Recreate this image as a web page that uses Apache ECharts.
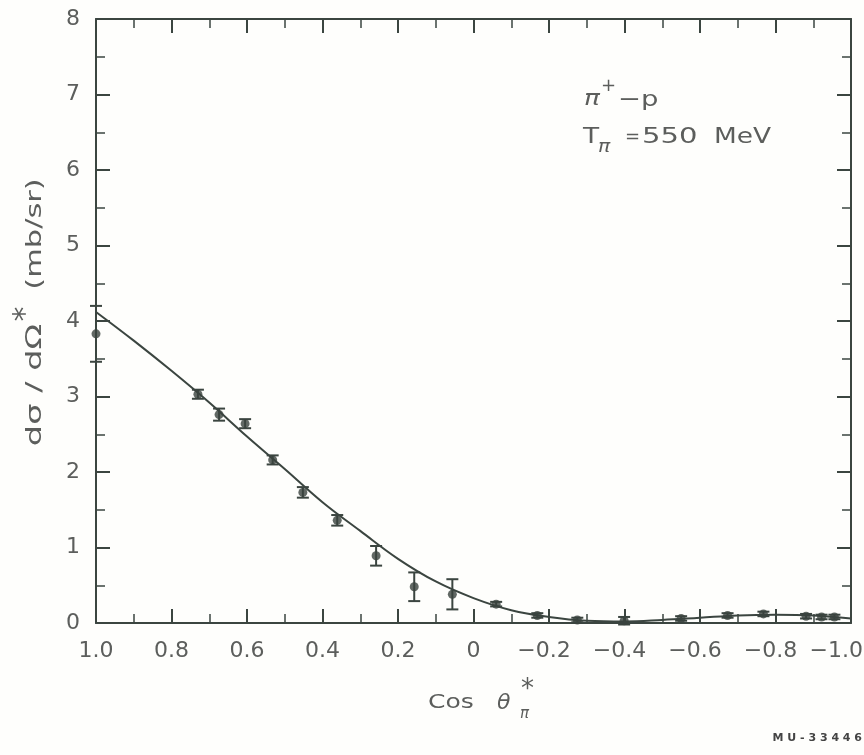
<!DOCTYPE html>
<html>
<head>
<meta charset="utf-8">
<script src="https://cdn.jsdelivr.net/npm/echarts@6/dist/echarts.min.js"></script>
<style>
  html, body { margin: 0; padding: 0; background: #fefefc; }
  #chart { width: 864px; height: 755px; }
</style>
</head>
<body>
<div id="chart"></div>
<script>
// measured points (cos theta*, dsigma/dOmega*, error)
var cosPts = [1.0, 0.73, 0.674, 0.605, 0.532, 0.452, 0.361, 0.258, 0.157, 0.056, -0.06, -0.169, -0.275, -0.399, -0.55, -0.673, -0.768, -0.881, -0.922, -0.956];
var sigPts = [3.83, 3.03, 2.76, 2.64, 2.16, 1.73, 1.36, 0.89, 0.48, 0.38, 0.25, 0.10, 0.04, 0.03, 0.06, 0.10, 0.12, 0.09, 0.08, 0.08];
var errPts = [0.37, 0.06, 0.08, 0.06, 0.06, 0.07, 0.07, 0.13, 0.19, 0.20, 0.03, 0.03, 0.03, 0.05, 0.03, 0.03, 0.03, 0.03, 0.03, 0.03];

// fitted curve
var curveX = [1.0, 0.9, 0.8, 0.7, 0.6, 0.5, 0.4, 0.3, 0.2, 0.1, 0.0, -0.1, -0.2, -0.3, -0.4, -0.5, -0.6, -0.7, -0.8, -0.9, -1.0];
var curveY = [4.12, 3.74, 3.34, 2.92, 2.47, 2.04, 1.60, 1.22, 0.85, 0.55, 0.33, 0.17, 0.08, 0.03, 0.02, 0.04, 0.07, 0.10, 0.11, 0.10, 0.06];

var xTicks = [1.0, 0.8, 0.6, 0.4, 0.2, 0, -0.2, -0.4, -0.6, -0.8, -1.0];
var yTicks = [0, 1, 2, 3, 4, 5, 6, 7, 8];

var ink = '#3b4540';
var txt = '#5c5e5c';
var font = 'DejaVu Sans';

var myChart = echarts.init(document.getElementById('chart'));

var points = [], bars = [], curve = [];
for (var i = 0; i < cosPts.length; i++) {
	points.push([cosPts[i], sigPts[i]]);
	bars.push([cosPts[i], sigPts[i] - errPts[i], sigPts[i] + errPts[i]]);
}
for (var j = 0; j < curveX.length; j++) {
	curve.push([curveX[j], curveY[j]]);
}

// negative labels: pad right with invisible text so the digits sit near the tick
function xLabel(v) {
	if (Math.abs(v) < 1e-9) return '0';
	if (v <= -0.99) return '\u22121.0{h2|\u22121}';
	if (v < 0) return '\u2212' + Math.abs(v).toFixed(1) + '{h|\u2212}';
	return v.toFixed(1);
}

function txtEl(x, y, s, size, opts) {
	opts = opts || {};
	return {
		type: 'text', x: x, y: y,
		rotation: opts.rot || 0,
		scaleX: opts.sx || 1,
		style: {
			text: s,
			font: (opts.style || '') + ' ' + size + 'px "' + font + '"',
			fill: opts.fill || txt,
			align: opts.align || 'left',
			verticalAlign: 'middle'
		}
	};
}

var axisCommon = {
	type: 'value',
	axisLine: { show: true, onZero: false, lineStyle: { color: ink, width: 2 } },
	axisTick: { show: true, inside: true, length: 14, lineStyle: { color: ink, width: 2 } },
	minorTick: { show: true, splitNumber: 2, length: 9, lineStyle: { color: ink, width: 1.5 } },
	splitLine: { show: false }
};

option = {
	backgroundColor: '#fefefc',
	animation: false,
	grid: { left: 96, right: 13, top: 19, bottom: 132, containLabel: false, outerBoundsMode: 'none' },
	xAxis: [
		echarts.util.merge({
			position: 'bottom', inverse: true, min: -1, max: 1, interval: 0.2,
			axisLabel: {
				show: true, margin: 17, color: txt, fontSize: 22, fontFamily: font,
				showMinLabel: true, showMaxLabel: true, hideOverlap: false,
				formatter: xLabel,
				rich: {
					h: { color: 'rgba(0,0,0,0)', fontSize: 12, fontFamily: font },
					h2: { color: 'rgba(0,0,0,0)', fontSize: 20, fontFamily: font }
				}
			}
		}, axisCommon, true),
		echarts.util.merge({
			position: 'top', inverse: true, min: -1, max: 1, interval: 0.2,
			axisLabel: { show: false }
		}, axisCommon, true)
	],
	yAxis: [
		echarts.util.merge({
			position: 'left', min: 0, max: 8, interval: 1,
			axisLabel: { show: true, margin: 16, color: txt, fontSize: 22, fontFamily: font }
		}, axisCommon, true),
		echarts.util.merge({
			position: 'right', min: 0, max: 8, interval: 1,
			axisLabel: { show: false }
		}, axisCommon, true)
	],
	series: [
		{
			name: 'fit',
			type: 'line',
			xAxisIndex: 0, yAxisIndex: 0,
			data: curve,
			smooth: 0.4,
			symbol: 'none',
			lineStyle: { color: ink, width: 2 },
			z: 2
		},
		{
			name: 'errors',
			type: 'custom',
			xAxisIndex: 0, yAxisIndex: 0,
			clip: false,
			data: bars,
			renderItem: function (params, api) {
				var lo = api.coord([api.value(0), api.value(1)]);
				var hi = api.coord([api.value(0), api.value(2)]);
				var w = 6;
				var st = { stroke: ink, lineWidth: 2 };
				return {
					type: 'group',
					children: [
						{ type: 'line', shape: { x1: lo[0], y1: lo[1], x2: hi[0], y2: hi[1] }, style: st },
						{ type: 'line', shape: { x1: lo[0] - w, y1: lo[1], x2: lo[0] + w, y2: lo[1] }, style: st },
						{ type: 'line', shape: { x1: hi[0] - w, y1: hi[1], x2: hi[0] + w, y2: hi[1] }, style: st }
					]
				};
			},
			z: 3
		},
		{
			name: 'data',
			type: 'scatter',
			xAxisIndex: 0, yAxisIndex: 0,
			clip: false,
			data: points,
			symbol: 'circle',
			symbolSize: 9,
			itemStyle: { color: '#3a423d' },
			z: 4
		}
	],
	graphic: [
		// y axis title (rotated)
		txtEl(36, 385, 'd\u03c3 / d\u03a9', 21, { rot: Math.PI / 2, sx: 1.6, align: 'center' }),
		txtEl(36, 234, '(mb/sr)', 21, { rot: Math.PI / 2, sx: 1.45, align: 'center' }),
		txtEl(26, 314, '*', 30, { rot: Math.PI / 2, align: 'center' }),
		// annotation
		txtEl(584, 99, '\u03c0', 22, { style: 'italic', sx: 1.2 }),
		txtEl(601, 86, '+', 18),
		txtEl(618, 100, '\u2212p', 22, { sx: 1.25 }),
		txtEl(583, 137, 'T', 22, { sx: 1.2 }),
		txtEl(598, 148, '\u03c0', 17, { style: 'italic', sx: 1.2 }),
		txtEl(625, 137, '=', 18),
		txtEl(642, 137, '550', 22, { sx: 1.32 }),
		txtEl(714, 137, 'MeV', 22, { sx: 1.2 }),
		// x axis title
		txtEl(428, 703, 'Cos', 20, { sx: 1.25 }),
		txtEl(497, 703, '\u03b8', 22, { style: 'italic' }),
		txtEl(520, 714, '\u03c0', 15, { style: 'italic' }),
		txtEl(521, 690, '*', 26),
		txtEl(862, 738, 'M U - 3 3 4 4 6', 11, { style: 'bold', fill: '#444', align: 'right' })
	]
};
myChart.setOption(option);
</script>
</body>
</html>
